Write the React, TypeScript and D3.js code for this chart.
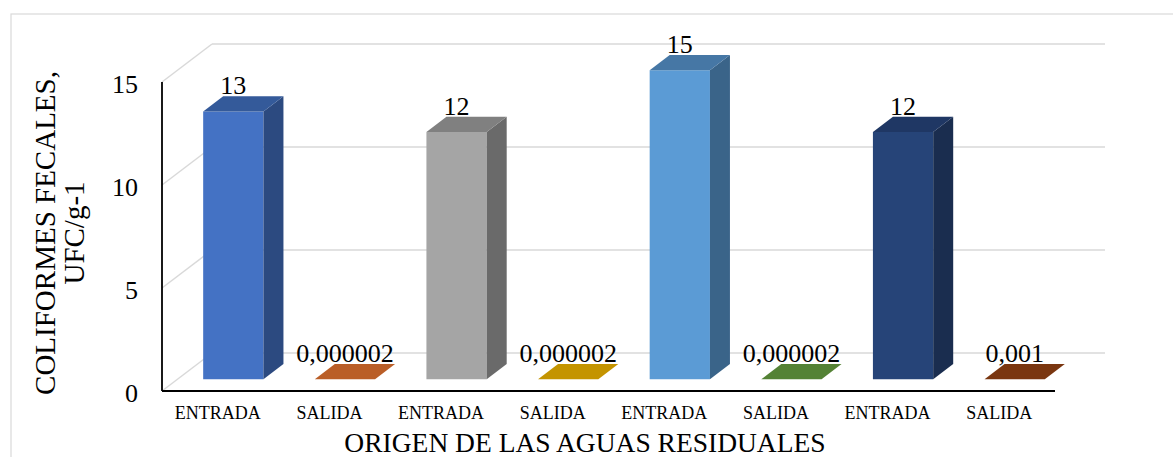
import * as d3 from 'd3'

const width = 1173
const height = 457

const categories = ['ENTRADA', 'SALIDA', 'ENTRADA', 'SALIDA', 'ENTRADA', 'SALIDA', 'ENTRADA', 'SALIDA']
const values = [13, 0.000002, 12, 0.000002, 15, 0.000002, 12, 0.001]
const frontColors = ['#4472C4', '#ED7D31', '#A5A5A5', '#FFC000', '#5B9BD5', '#70AD47', '#264478', '#9E480E']
const topColors = ['#345A9A', '#BA5E27', '#808080', '#C49400', '#4677A5', '#548235', '#1F3764', '#7A3610']
const sideColors = ['#2C4A80', '#9C4E1F', '#6A6A6A', '#A37B00', '#3A6489', '#466E2C', '#1A2D4F', '#66300C']
const yTicks = [0, 5, 10, 15]

const yTitle = ['COLIFORMES FECALES,', 'UFC/g-1']
const xTitle = 'ORIGEN DE LAS AGUAS RESIDUALES'

const font = '"Liberation Serif", "Times New Roman", serif'

// 3D depth of the plot box
const depthX = 50
const depthY = -38
const barD0 = 0.31
const barD1 = 0.71
const barFrac = 0.54

const fmt = d3.formatLocale({ decimal: ',', thousands: '.', grouping: [3], currency: ['', ''] }).format('~f')

function App() {
  const x = d3.scaleBand<number>()
    .domain(categories.map((_, i) => i))
    .range([162, 1055])
    .padding(0)

  const y = d3.scaleLinear()
    .domain([0, 15])
    .range([391, 82])

  const x0 = x.range()[0]
  const x1 = x.range()[1]
  const bw = x.bandwidth() * barFrac

  const pts = (arr: [number, number][]) => arr.map(p => p.join(',')).join(' ')

  return (
    <svg width={width} height={height} style={{ position: 'absolute', left: 0, top: 0 }} fontFamily={font}>
      <rect x={0} y={0} width={width} height={height} fill="white" />
      <rect x={11} y={14} width={1200} height={500} fill="none" stroke="#D9D9D9" strokeWidth={1.2} />

      {/* back wall and side wall gridlines */}
      {yTicks.map(t => (
        <g key={t}>
          <line x1={x0 + depthX} x2={x1 + depthX} y1={y(t) + depthY} y2={y(t) + depthY} stroke="#D9D9D9" strokeWidth={1.5} />
          <line x1={x0} x2={x0 + depthX} y1={y(t)} y2={y(t) + depthY} stroke="#D9D9D9" strokeWidth={1.5} />
        </g>
      ))}

      {/* axes */}
      <line x1={x0} x2={x0} y1={y(15)} y2={y(0)} stroke="black" strokeWidth={1.8} />
      <line x1={x0} x2={x1} y1={y(0)} y2={y(0)} stroke="black" strokeWidth={1.8} />

      {/* bars */}
      {values.map((v, i) => {
        const cx = (x(i) as number) + x.bandwidth() / 2
        const fl = cx + barD0 * depthX - bw / 2
        const fr = fl + bw
        const fb = y(0) + barD0 * depthY
        const ft = y(v) + barD0 * depthY
        const ddx = (barD1 - barD0) * depthX
        const ddy = (barD1 - barD0) * depthY
        return (
          <g key={i}>
            <polygon points={pts([[fl, fb], [fr, fb], [fr, ft], [fl, ft]])} fill={frontColors[i]} />
            <polygon points={pts([[fr, fb], [fr + ddx, fb + ddy], [fr + ddx, ft + ddy], [fr, ft]])} fill={sideColors[i]} />
            <polygon points={pts([[fl, ft], [fr, ft], [fr + ddx, ft + ddy], [fl + ddx, ft + ddy]])} fill={topColors[i]} />
            <text x={cx + barD0 * depthX} y={ft + ddy - 2} textAnchor="middle" fontSize={26} fill="black">{fmt(v)}</text>
          </g>
        )
      })}

      {/* y ticks */}
      {yTicks.map(t => (
        <text key={t} x={138} y={y(t) + 11} textAnchor="end" fontSize={26} fill="black">{t}</text>
      ))}

      {/* category labels */}
      {categories.map((c, i) => (
        <text key={i} x={(x(i) as number) + x.bandwidth() / 2} y={419} textAnchor="middle" fontSize={18} fill="black">{c}</text>
      ))}

      {/* titles */}
      <text textAnchor="middle" fontSize={29} fill="black" transform="translate(55, 233) rotate(-90)">
        {yTitle.map((l, i) => (
          <tspan key={i} x={0} dy={i === 0 ? 0 : 29}>{l}</tspan>
        ))}
      </text>
      <text x={585} y={452} textAnchor="middle" fontSize={27.5} fill="black">{xTitle}</text>
    </svg>
  )
}

export default App
